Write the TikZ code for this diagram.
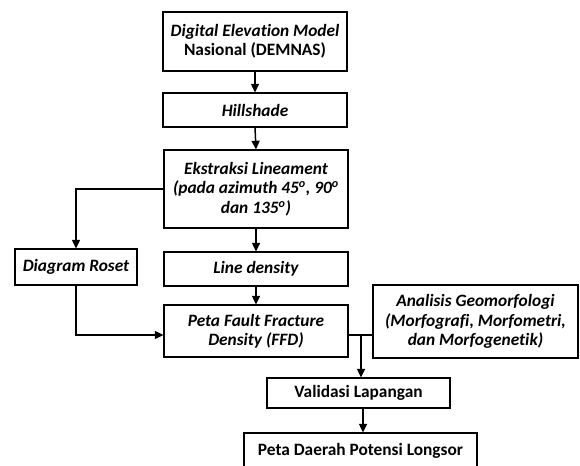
\documentclass[tikz,border=0pt]{standalone}
\usepackage{fontspec}
\setmainfont[Ligatures={NoCommon}]{Carlito}
\usetikzlibrary{calc,arrows.meta}

\begin{document}
\begin{tikzpicture}[>={Triangle[length=6.5pt,width=6pt]}, line join=miter, x=0.75pt, y=-0.75pt]
\tikzset{
  box/.style={draw, line width=0.8pt, align=center, inner sep=0pt, font=\fontsize{13}{14.5}\selectfont\bfseries},
  it/.style={font=\fontsize{13}{14.5}\selectfont\bfseries\itshape},
  arr/.style={->, line width=1.1pt},
  lin/.style={line width=1.1pt},
}
\clip (0,0) rectangle (580,466);
\path[use as bounding box] (0,0) rectangle (580,466);

\node[box, it, minimum width=184*0.75pt, minimum height=59*0.75pt] (dem) at (255,41.5)
  {Digital Elevation Model\\\upshape Nasional (DEMNAS)};
\node[box, it, minimum width=184*0.75pt, minimum height=34*0.75pt] (hill) at (255,110) {Hillshade};
\node[box, it, minimum width=184*0.75pt, minimum height=78*0.75pt] (ekstr) at (256,189)
  {Ekstraksi Lineament\\(pada azimuth 45\textsuperscript{o}, 90\textsuperscript{o}\\dan 135\textsuperscript{o})};
\node[box, it, minimum width=122*0.75pt, minimum height=36*0.75pt] (roset) at (76,267) {Diagram Roset};
\node[box, it, minimum width=184*0.75pt, minimum height=34*0.75pt] (lined) at (256,269) {Line density};
\node[box, it, minimum width=184*0.75pt, minimum height=52*0.75pt] (ffd) at (256,331)
  {Peta Fault Fracture\\Density (FFD)};
\node[box, it, minimum width=205*0.75pt, minimum height=73*0.75pt] (anal) at (475.5,321.5)
  {Analisis Geomorfologi\\(Morfografi, Morfometri,\\dan Morfogenetik)};
\node[box, minimum width=183*0.75pt, minimum height=30*0.75pt] (valid) at (358.5,393) {Validasi Lapangan};
\node[box, minimum width=233*0.75pt, minimum height=36*0.75pt] (longsor) at (360.5,451) {Peta Daerah Potensi Longsor};

% alur utama
\draw[arr] (dem.south) -- (hill.north);
\draw[arr] (hill.south) -- (ekstr.north);
\draw[arr] (ekstr.south) -- (lined.north);
\draw[arr] (lined.south) -- (ffd.north);
\draw[arr] (ekstr.west) -| (roset.north);
\draw[arr] (roset.south) |- ($(ffd.west)+(0,4)$);

% gabungan FFD dan geomorfologi
\coordinate (j) at (361,335);
\draw[lin] (ffd.east |- j) -- (anal.west |- j);
\draw[arr] (j) -- (valid.north -| j);
\draw[arr] (valid.south -| 363,0) -- (longsor.north -| 363,0);
\end{tikzpicture}
\end{document}
